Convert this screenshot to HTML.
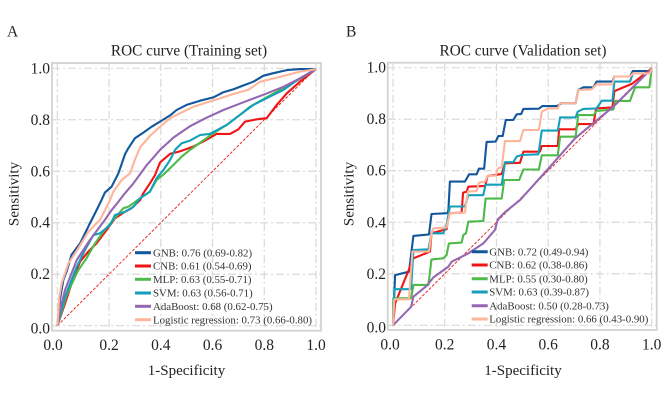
<!DOCTYPE html>
<html>
<head>
<meta charset="utf-8">
<title>ROC curves</title>
<style>
html,body{margin:0;padding:0;background:#fff;width:669px;height:411px;overflow:hidden}
svg{display:block}
text{font-family:"Liberation Serif",serif;fill:#222}
.tick{font-size:15.5px}
.ttl{font-size:15.3px;text-anchor:middle}
.axl{font-size:15px;text-anchor:middle}
.leg{font-size:10.85px;fill:#333}
.pan{font-size:15.5px}
</style>
</head>
<body>
<svg id="chart" width="669" height="411" viewBox="0 0 669 411" xmlns="http://www.w3.org/2000/svg">
<rect width="669" height="411" fill="#fff"/>
<g id="panel-a"></g>
<g id="panel-b"></g>

<text class="pan" x="7" y="36.5">A</text>
<text class="ttl" x="189" y="55.5">ROC curve (Training set)</text>
<text class="axl" x="186.5" y="375">1-Specificity</text>
<text class="axl" transform="translate(18.5 194) rotate(-90)">Sensitivity</text>

<text class="pan" x="346" y="36.5">B</text>
<text class="ttl" x="523" y="55.5">ROC curve (Validation set)</text>
<text class="axl" x="523" y="375">1-Specificity</text>
<text class="axl" transform="translate(353.5 194) rotate(-90)">Sensitivity</text>

<g>
<g><line x1="135" x2="151" y1="252.7" y2="252.7" stroke="#12569b" stroke-width="3"/><text class="leg" x="153" y="256.4">GNB: 0.76 (0.69-0.82)</text></g>
<g><line x1="135" x2="151" y1="266" y2="266" stroke="#f01414" stroke-width="3"/><text class="leg" x="153" y="269.7">CNB: 0.61 (0.54-0.69)</text></g>
<g><line x1="135" x2="151" y1="279.3" y2="279.3" stroke="#4dba4a" stroke-width="3"/><text class="leg" x="153" y="283">MLP: 0.63 (0.55-0.71)</text></g>
<g><line x1="135" x2="151" y1="293" y2="293" stroke="#14a0ba" stroke-width="3"/><text class="leg" x="153" y="296.7">SVM: 0.63 (0.56-0.71)</text></g>
<g><line x1="135" x2="151" y1="306.3" y2="306.3" stroke="#9467b0" stroke-width="3"/><text class="leg" x="153" y="310">AdaBoost: 0.68 (0.62-0.75)</text></g>
<g><line x1="135" x2="151" y1="319.7" y2="319.7" stroke="#fdb59b" stroke-width="3"/><text class="leg" x="153" y="323.4">Logistic regression: 0.73 (0.66-0.80)</text></g>
</g>

<g>
<g><line x1="471.7" x2="487.7" y1="251.7" y2="251.7" stroke="#12569b" stroke-width="3"/><text class="leg" x="489.3" y="255.4">GNB: 0.72 (0.49-0.94)</text></g>
<g><line x1="471.7" x2="487.7" y1="265" y2="265" stroke="#f01414" stroke-width="3"/><text class="leg" x="489.3" y="268.7">CNB: 0.62 (0.38-0.86)</text></g>
<g><line x1="471.7" x2="487.7" y1="278.7" y2="278.7" stroke="#4dba4a" stroke-width="3"/><text class="leg" x="489.3" y="282.4">MLP: 0.55 (0.30-0.80)</text></g>
<g><line x1="471.7" x2="487.7" y1="292" y2="292" stroke="#14a0ba" stroke-width="3"/><text class="leg" x="489.3" y="295.7">SVM: 0.63 (0.39-0.87)</text></g>
<g><line x1="471.7" x2="487.7" y1="305.7" y2="305.7" stroke="#9467b0" stroke-width="3"/><text class="leg" x="489.3" y="309.4">AdaBoost: 0.50 (0.28-0.73)</text></g>
<g><line x1="471.7" x2="487.7" y1="319" y2="319" stroke="#fdb59b" stroke-width="3"/><text class="leg" x="489.3" y="322.7">Logistic regression: 0.66 (0.43-0.90)</text></g>
</g>
</svg>

<script>
const tickValues = [0, 0.2, 0.4, 0.6, 0.8, 1.0];
const tickLabels = ['0.0', '0.2', '0.4', '0.6', '0.8', '1.0'];

const gnbTrainFpr = [0,.010,.023,.036,.055,.088,.120,.152,.171,.184,.210,.236,.262,.274,.300,.332,.365,.397,.436,.461,.500,.552,.603,.642,.680,.719,.758,.796,.835,.887,.938,1];
const gnbTrainTpr = [0,.100,.177,.210,.275,.320,.385,.449,.488,.517,.540,.592,.667,.689,.728,.750,.773,.793,.817,.838,.858,.874,.887,.907,.918,.933,.948,.971,.981,.993,.997,.997];
const cnbTrainFpr = [0,.030,.062,.088,.120,.152,.191,.223,.255,.287,.320,.332,.358,.378,.397,.436,.474,.526,.571,.616,.668,.700,.726,.771,.809,.848,.887,.938,1];
const cnbTrainTpr = [0,.087,.184,.249,.288,.320,.372,.417,.439,.456,.488,.514,.553,.586,.634,.668,.677,.696,.719,.745,.745,.763,.793,.802,.806,.858,.903,.948,.997];
const mlpTrainFpr = [0,.036,.081,.113,.146,.178,.216,.255,.274,.320,.358,.384,.416,.448,.481,.513,.552,.603,.655,.706,.745,.809,.887,.938,1];
const mlpTrainTpr = [0,.119,.216,.262,.320,.365,.411,.456,.462,.495,.521,.566,.592,.624,.657,.683,.711,.747,.780,.819,.851,.887,.931,.959,.997];
const svmTrainFpr = [0,.030,.075,.107,.139,.165,.204,.223,.262,.294,.320,.358,.384,.410,.436,.455,.481,.513,.552,.590,.655,.706,.758,.809,.874,.938,1];
const svmTrainTpr = [0,.113,.229,.294,.352,.359,.391,.430,.443,.462,.495,.521,.573,.605,.644,.683,.709,.719,.741,.745,.780,.819,.858,.884,.916,.961,.997];
const adaTrainFpr = [0,.010,.030,.075,.126,.184,.210,.229,.255,.294,.345,.397,.448,.513,.577,.642,.719,.796,.874,.938,1];
const adaTrainTpr = [0,.061,.139,.255,.333,.411,.449,.472,.507,.553,.623,.683,.730,.775,.808,.838,.868,.897,.928,.961,.997];
const lrTrainFpr = [0,.008,.017,.043,.081,.120,.165,.204,.216,.249,.281,.300,.320,.358,.397,.436,.474,.526,.577,.629,.680,.738,.784,.822,.874,.938,1];
const lrTrainTpr = [0,.113,.165,.242,.301,.365,.411,.488,.520,.566,.592,.644,.693,.737,.773,.806,.825,.851,.867,.883,.900,.916,.948,.957,.970,.987,.997];

const gnbValFpr = [0,.008,.062,.079,.139,.149,.211,.214,.220,.278,.294,.323,.332,.352,.362,.397,.407,.424,.436,.465,.478,.495,.504,.564,.577,.633,.652,.706,.716,.736,.775,.787,.848,.856,.916,.927,.994,1];
const gnbValTpr = [0,.195,.208,.347,.353,.432,.435,.448,.558,.558,.586,.586,.608,.608,.712,.713,.735,.735,.797,.797,.819,.820,.840,.841,.851,.851,.862,.862,.913,.924,.924,.946,.946,.966,.966,.987,.987,.997];
const cnbValFpr = [0,.008,.066,.079,.143,.149,.207,.216,.265,.271,.285,.291,.356,.366,.420,.433,.491,.504,.568,.575,.637,.642,.706,.716,.775,.785,.848,.856,.923,1];
const cnbValTpr = [0,.085,.228,.260,.286,.357,.373,.435,.437,.515,.519,.538,.541,.580,.587,.629,.631,.674,.674,.696,.696,.761,.761,.781,.781,.842,.846,.909,.937,.997];
const mlpValFpr = [0,.001,.070,.079,.137,.149,.195,.207,.216,.265,.272,.282,.291,.349,.358,.420,.430,.488,.504,.564,.575,.637,.646,.706,.716,.775,.787,.852,.859,.916,.936,.991,1];
const mlpValTpr = [0,.105,.105,.157,.157,.256,.260,.273,.318,.321,.351,.357,.402,.405,.492,.492,.564,.564,.605,.605,.660,.660,.732,.732,.816,.816,.832,.838,.871,.871,.924,.924,.997];
const svmValFpr = [0,.005,.070,.079,.137,.149,.195,.207,.220,.278,.291,.349,.358,.420,.433,.465,.478,.497,.562,.575,.637,.646,.706,.714,.736,.787,.807,.848,.856,.916,.927,.994,1];
const svmValTpr = [0,.140,.140,.292,.295,.357,.357,.389,.461,.461,.505,.505,.546,.546,.633,.633,.655,.661,.664,.756,.756,.807,.807,.829,.840,.842,.872,.872,.946,.946,.978,.978,.997];
const adaValFpr = [0,.070,.079,.130,.156,.214,.227,.291,.349,.394,.405,.433,.491,.549,.601,.704,.852,1];
const adaValTpr = [0,.072,.111,.153,.186,.228,.247,.279,.318,.370,.411,.439,.486,.551,.609,.726,.849,.997];
const lrValFpr = [0,.005,.062,.075,.139,.149,.156,.207,.220,.278,.289,.323,.332,.356,.366,.397,.405,.420,.433,.491,.504,.564,.575,.601,.637,.646,.706,.716,.768,.787,.848,.856,.916,.927,.994,1];
const lrValTpr = [0,.101,.101,.286,.286,.357,.376,.380,.435,.437,.519,.521,.554,.558,.580,.581,.609,.613,.715,.715,.758,.758,.829,.842,.842,.862,.862,.913,.916,.935,.935,.966,.966,.978,.978,.997];

const diagFpr = [0, 1];
const diagTpr = [0, 1];

const NS = 'http://www.w3.org/2000/svg';

function mk(tag, attrs, parent) {
  const el = document.createElementNS(NS, tag);
  for (const k in attrs) el.setAttribute(k, attrs[k]);
  parent.appendChild(el);
  return el;
}

function drawPanel(parent, box, series) {
  const sx = v => box.x0 + v * (box.x1 - box.x0);
  const sy = v => box.y0 + v * (box.y1 - box.y0);

  tickValues.forEach((v, i) => {
    const gv = mk('line', {x1: sx(v), x2: sx(v), y1: box.top, y2: box.bottom, stroke: '#d9d9d9', 'stroke-width': 1.2, 'stroke-dasharray': '8 3 2 3'}, parent);
    
    
    const gh = mk('line', {x1: box.left, x2: box.right, y1: sy(v), y2: sy(v), stroke: '#d9d9d9', 'stroke-width': 1.2, 'stroke-dasharray': '8 3 2 3'}, parent);
    
    

    const tx = mk('text', {class: 'tick', x: sx(v) + (i === 0 ? box.zeroShiftX : 0), y: box.xLabelY, 'text-anchor': 'middle'}, parent);
    tx.textContent = tickLabels[i];
    
    
    const ty = mk('text', {class: 'tick', x: box.yLabelX, y: sy(v) + 5 + (i === 0 ? box.zeroShiftY : 0), 'text-anchor': 'end'}, parent);
    ty.textContent = tickLabels[i];
    
    
  });

  const frame = mk('rect', {x: box.left, y: box.top, width: box.right - box.left, height: box.bottom - box.top, fill: 'none', stroke: '#d2d2d2', 'stroke-width': 1.8}, parent);
  
  

  series.forEach(s => {
    const pts = s.fpr.map((f, i) => sx(f).toFixed(1) + ',' + sy(s.tpr[i]).toFixed(1)).join(' ');
    const line = mk('polyline', {points: pts, fill: 'none', stroke: s.color, 'stroke-width': s.width, 'stroke-linejoin': 'round', 'stroke-dasharray': s.dash || 'none'}, parent);
    
    
  });
}

drawPanel(document.getElementById('panel-a'),
  {x0: 57.3, x1: 316, y0: 325.7, y1: 68.3, left: 52, right: 321, top: 63, bottom: 330.7, xLabelY: 350, yLabelX: 50, zeroShiftX: -4.3, zeroShiftY: 2.7},
  [
    {name: 'diagonal-reference-line', fpr: diagFpr, tpr: diagTpr, color: '#e8302c', width: 1, dash: '3 1.6'},
    {name: 'gnb-curve', fpr: gnbTrainFpr, tpr: gnbTrainTpr, color: '#12569b', width: 2.1},
    {name: 'cnb-curve', fpr: cnbTrainFpr, tpr: cnbTrainTpr, color: '#f01414', width: 2.1},
    {name: 'mlp-curve', fpr: mlpTrainFpr, tpr: mlpTrainTpr, color: '#4dba4a', width: 2.1},
    {name: 'svm-curve', fpr: svmTrainFpr, tpr: svmTrainTpr, color: '#14a0ba', width: 2.1},
    {name: 'adaboost-curve', fpr: adaTrainFpr, tpr: adaTrainTpr, color: '#9467b0', width: 2.1},
    {name: 'logistic-regression-curve', fpr: lrTrainFpr, tpr: lrTrainTpr, color: '#fdb59b', width: 2.1}
  ]);

drawPanel(document.getElementById('panel-b'),
  {x0: 393, x1: 651.7, y0: 325.3, y1: 67.7, left: 387.7, right: 656.7, top: 62.7, bottom: 330, xLabelY: 349.5, yLabelX: 386, zeroShiftX: -3, zeroShiftY: 2.3},
  [
    {name: 'diagonal-reference-line', fpr: diagFpr, tpr: diagTpr, color: '#e8302c', width: 1, dash: '3 1.6'},
    {name: 'gnb-curve', fpr: gnbValFpr, tpr: gnbValTpr, color: '#12569b', width: 2.1},
    {name: 'cnb-curve', fpr: cnbValFpr, tpr: cnbValTpr, color: '#f01414', width: 2.1},
    {name: 'mlp-curve', fpr: mlpValFpr, tpr: mlpValTpr, color: '#4dba4a', width: 2.1},
    {name: 'svm-curve', fpr: svmValFpr, tpr: svmValTpr, color: '#14a0ba', width: 2.1},
    {name: 'adaboost-curve', fpr: adaValFpr, tpr: adaValTpr, color: '#9467b0', width: 2.1},
    {name: 'logistic-regression-curve', fpr: lrValFpr, tpr: lrValTpr, color: '#fdb59b', width: 2.1}
  ]);
</script>
</body>
</html>
